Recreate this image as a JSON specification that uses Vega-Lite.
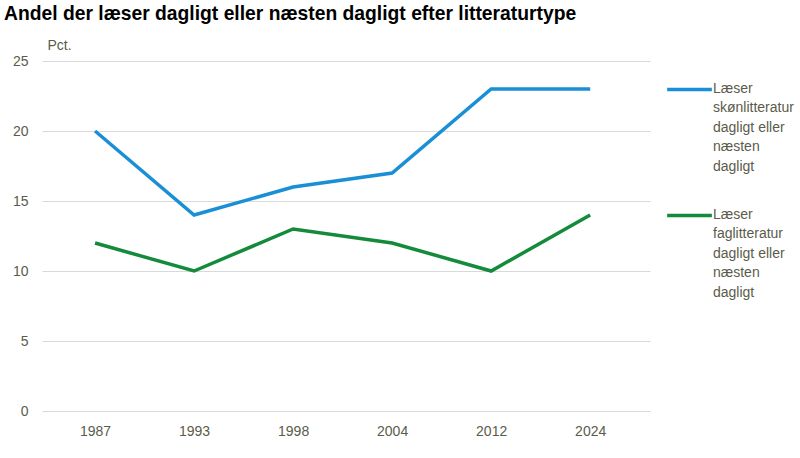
{
  "$schema": "https://vega.github.io/schema/vega-lite/v6.json",
  "width": 608,
  "height": 350,
  "autosize": {"type": "none"},
  "padding": {"left": 42, "top": 61, "right": 150, "bottom": 47},
  "background": "white",
  "title": {
    "text": "Andel der læser dagligt eller næsten dagligt efter litteraturtype",
    "anchor": "start",
    "frame": "group",
    "font": "Liberation Sans",
    "fontSize": 19.3,
    "fontWeight": "bold",
    "color": "#000000",
    "dx": -38,
    "offset": 14
  },
  "config": {
    "view": {"stroke": null},
    "font": "Liberation Sans"
  },
  "data": {
    "values": [
      {"year": "1987", "serie": "skøn", "value": 20},
      {"year": "1993", "serie": "skøn", "value": 14},
      {"year": "1998", "serie": "skøn", "value": 16},
      {"year": "2004", "serie": "skøn", "value": 17},
      {"year": "2012", "serie": "skøn", "value": 23},
      {"year": "2024", "serie": "skøn", "value": 23},
      {"year": "1987", "serie": "fag", "value": 12},
      {"year": "1993", "serie": "fag", "value": 10},
      {"year": "1998", "serie": "fag", "value": 13},
      {"year": "2004", "serie": "fag", "value": 12},
      {"year": "2012", "serie": "fag", "value": 10},
      {"year": "2024", "serie": "fag", "value": 14}
    ]
  },
  "mark": {"type": "line", "strokeWidth": 3.5},
  "encoding": {
    "x": {
      "field": "year",
      "type": "ordinal",
      "scale": {"type": "point", "padding": 0.57, "align": 0.47},
      "axis": {
        "title": null,
        "labelAngle": 0,
        "domain": false,
        "ticks": false,
        "grid": false,
        "labelPadding": 13,
        "labelFontSize": 14,
        "labelColor": "#5b5b4b",
        "labelFont": "Liberation Sans"
      }
    },
    "y": {
      "field": "value",
      "type": "quantitative",
      "scale": {"domain": [0, 25]},
      "axis": {
        "values": [0, 5, 10, 15, 20, 25],
        "title": "Pct.",
        "titleAngle": 0,
        "titleAlign": "left",
        "titleBaseline": "bottom",
        "titleX": 5,
        "titleY": -9,
        "titleFont": "Liberation Sans",
        "titleFontSize": 14,
        "titleFontWeight": "normal",
        "titleColor": "#5b5b4b",
        "domain": false,
        "ticks": false,
        "labelPadding": 14,
        "labelFontSize": 14,
        "labelColor": "#5b5b4b",
        "labelFont": "Liberation Sans",
        "gridColor": "#d9d9d9",
        "gridWidth": 1.2
      }
    },
    "color": {
      "field": "serie",
      "type": "nominal",
      "scale": {"domain": ["skøn", "fag"], "range": ["#1a8fd5", "#148a3b"]},
      "legend": {
        "title": null,
        "orient": "none",
        "legendX": 623,
        "legendY": 4,
        "symbolType": "stroke",
        "symbolSize": 2000,
        "symbolStrokeWidth": 3.5,
        "labelExpr": "datum.value == 'skøn' ? ['Læser', 'skønlitteratur', 'dagligt eller', 'næsten', 'dagligt'] : ['Læser', 'faglitteratur', 'dagligt eller', 'næsten', 'dagligt']",
        "labelFont": "Liberation Sans",
        "labelFontSize": 14,
        "labelColor": "#5b5b4b",
        "labelLimit": 200,
        "labelBaseline": "top",
        "labelOffset": -1,
        "rowPadding": 17,
        "encode": {"labels": {"update": {"lineHeight": {"value": 19.5}, "dy": {"value": -8}}}}
      }
    }
  }
}
